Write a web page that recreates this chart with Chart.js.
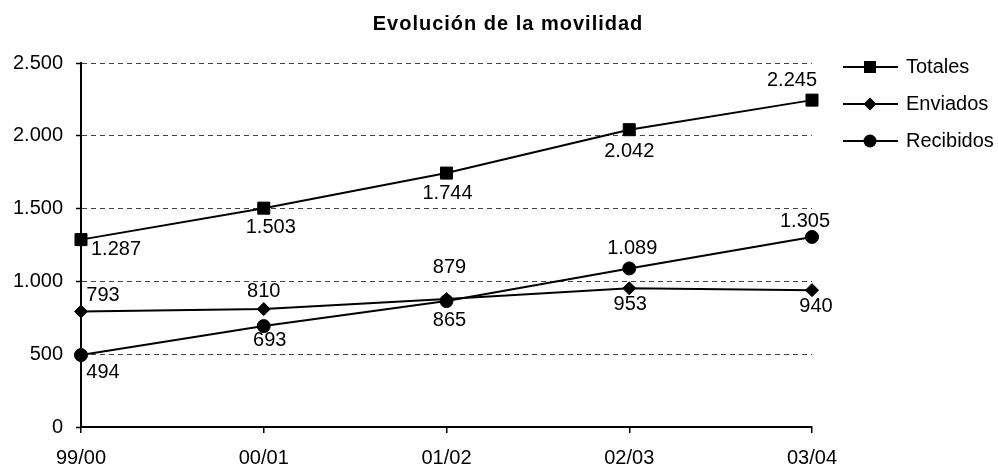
<!DOCTYPE html>
<html>
<head>
<meta charset="utf-8">
<script src="https://cdn.jsdelivr.net/npm/chart.js@4.4.0/dist/chart.umd.min.js"></script>
<style>
  html, body { margin: 0; padding: 0; background: #fff; }
</style>
</head>
<body>
<canvas id="movilidad" width="998" height="467"></canvas>
<script>
// datos
const cursos = ['99/00', '00/01', '01/02', '02/03', '03/04'];
const totales = [1287, 1503, 1744, 2042, 2245];
const enviados = [793, 810, 879, 953, 940];
const recibidos = [494, 693, 865, 1089, 1305];
const ejeY = [0, 500, 1000, 1500, 2000, 2500];

// posicion de las etiquetas respecto al punto [dx, dy]
const posTotales = [[35, 10], [7, 19], [1, 20], [0, 22], [-20, -20]];
const posEnviados = [[22, -16], [0, -18], [3, -32], [1, 16], [4, 16]];
const posRecibidos = [[22, 17], [6, 14], [3, 19], [3, -20], [-7, -16]];

const FONT = "'Liberation Sans', Arial, sans-serif";

function formato(n) {
    return String(n).replace(/\B(?=(\d{3})+(?!\d))/g, '.');
}

function marcador(ctx, estilo, x, y) {
    ctx.fillStyle = '#000';
    ctx.beginPath();
    if (estilo === 'rect') {
        ctx.rect(x - 6, y - 6, 12, 12);
    } else if (estilo === 'rectRot') {
        ctx.moveTo(x, y - 6.5);
        ctx.lineTo(x + 6.5, y);
        ctx.lineTo(x, y + 6.5);
        ctx.lineTo(x - 6.5, y);
        ctx.closePath();
    } else {
        ctx.arc(x, y, 6.5, 0, Math.PI * 2);
    }
    ctx.fill();
}

const series = [
    { label: 'Totales', data: totales, estilo: 'rect', radio: 8.5, pos: posTotales },
    { label: 'Enviados', data: enviados, estilo: 'rectRot', radio: 6.5, pos: posEnviados },
    { label: 'Recibidos', data: recibidos, estilo: 'circle', radio: 6.5, pos: posRecibidos }
];

//titulo, leyenda y etiquetas
const extras = {
    id: 'extras',
    afterDraw(chart) {
        const ctx = chart.ctx;
        ctx.save();

        ctx.fillStyle = '#000';
        ctx.font = 'bold 20px ' + FONT;
        ctx.textAlign = 'center';
        ctx.textBaseline = 'middle';
        ctx.letterSpacing = '1px';
        ctx.fillText('Evolución de la movilidad', 508, 24);
        ctx.letterSpacing = '0px';

        ctx.font = '20px ' + FONT;
        series.forEach((s, i) => {
            const meta = chart.getDatasetMeta(i);
            meta.data.forEach((p, j) => {
                ctx.fillStyle = '#000';
                ctx.textAlign = 'center';
                ctx.fillText(formato(s.data[j]), p.x + s.pos[j][0], p.y + s.pos[j][1]);
            });

            const ly = 67 + i * 37;
            ctx.strokeStyle = '#000';
            ctx.lineWidth = 2;
            ctx.beginPath();
            ctx.moveTo(843, ly);
            ctx.lineTo(898, ly);
            ctx.stroke();
            marcador(ctx, s.estilo, 870, ly);
            ctx.fillStyle = '#000';
            ctx.textAlign = 'left';
            ctx.fillText(s.label, 906, ly);
        });
        ctx.restore();
    }
};

const grafico = new Chart(document.getElementById('movilidad'), {
    type: 'line',
    data: {
        labels: cursos,
        datasets: series.map(s => ({
            label: s.label,
            data: s.data,
            borderColor: '#000',
            borderWidth: 2,
            pointStyle: s.estilo,
            pointRadius: s.radio,
            pointHoverRadius: s.radio,
            pointBackgroundColor: '#000',
            pointBorderColor: '#000',
            pointBorderWidth: 1,
            tension: 0,
            clip: false
        }))
    },
    plugins: [extras],
    options: {
        responsive: false,
        devicePixelRatio: 1,
        animation: false,
        layout: { padding: { top: 63, right: 186, left: 0, bottom: 0 } },
        plugins: {
            legend: { display: false },
            title: { display: false },
            tooltip: { enabled: false }
        },
        scales: {
            x: {
                offset: false,
                grid: { drawOnChartArea: false, drawTicks: true, tickLength: 6, color: '#000', lineWidth: 1.5 },
                border: { color: '#000', width: 2 },
                ticks: { color: '#000', font: { size: 20, family: FONT }, padding: 13, maxRotation: 0 },
                afterFit(scale) { scale.height = 40; }
            },
            y: {
                min: ejeY[0],
                max: ejeY[ejeY.length - 1],
                grid: { color: '#444', lineWidth: 1, tickLength: 5, tickColor: '#000', tickWidth: 1.5 },
                border: { color: '#000', width: 2, dash: [5, 4] },
                ticks: {
                    stepSize: 500,
                    color: '#000',
                    font: { size: 20, family: FONT },
                    padding: 13,
                    callback: v => formato(v)
                },
                afterFit(scale) { scale.width = 81; }
            }
        }
    }
});
</script>
</body>
</html>
